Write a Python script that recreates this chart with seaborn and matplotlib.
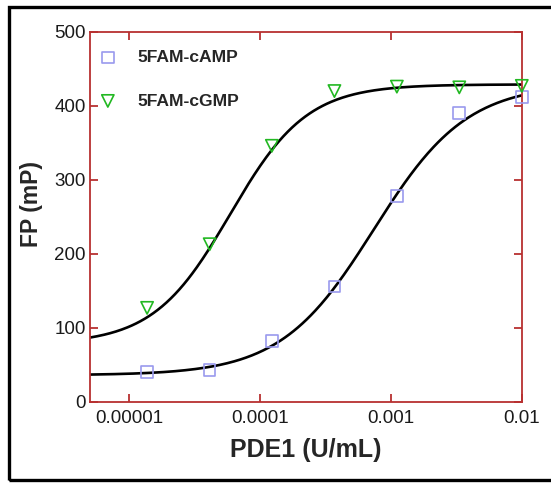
import numpy as np
import pandas as pd
import seaborn as sns
import matplotlib.pyplot as plt
from matplotlib.patches import Rectangle
from matplotlib.ticker import FixedLocator, FixedFormatter, NullLocator

# data
pde1 = [0.0000137, 0.0000412, 0.000123, 0.00037, 0.00111, 0.00333, 0.01]
camp_fp = [40, 43, 82, 156, 278, 390, 412]
cgmp_fp = [127, 213, 346, 420, 426, 425, 427]

# 4PL fit parameters: bottom, top, EC50, hill
camp_fit = (36, 430, 7.4e-4, 1.22)
cgmp_fit = (78, 429, 5.9e-5, 1.48)

x_ticks = [0.00001, 0.0001, 0.001, 0.01]
x_tick_labels = ['0.00001', '0.0001', '0.001', '0.01']
y_ticks = [0, 100, 200, 300, 400, 500]
x_lim = (5e-6, 0.01)

red = '#b83030'
camp_color = '#9a9aee'
cgmp_color = '#22b822'


def four_pl(x, bottom, top, ec50, hill):
    return bottom + (top - bottom) / (1 + (ec50 / x) ** hill)


sns.set_style('ticks')
plt.rcParams['font.family'] = ['Liberation Sans', 'DejaVu Sans']

fig = plt.figure(figsize=(5.51, 4.83), dpi=100)
ax = fig.add_axes([0.163, 0.168, 0.784, 0.766])

xs = np.logspace(np.log10(x_lim[0]), np.log10(x_lim[1]), 300)
curves = pd.DataFrame({'x': np.concatenate([xs, xs]),
                       'y': np.concatenate([four_pl(xs, *camp_fit), four_pl(xs, *cgmp_fit)]),
                       'series': ['cAMP'] * len(xs) + ['cGMP'] * len(xs)})
sns.lineplot(data=curves, x='x', y='y', units='series', estimator=None,
             color='black', linewidth=1.9, ax=ax, legend=False)

sns.scatterplot(x=pde1, y=camp_fp, marker='s', s=70, facecolor='none',
                edgecolor=camp_color, linewidth=1.2, label='5FAM-cAMP', ax=ax,
                zorder=3, clip_on=False)
sns.scatterplot(x=pde1, y=cgmp_fp, marker='v', s=78, facecolor='none',
                edgecolor=cgmp_color, linewidth=1.2, label='5FAM-cGMP', ax=ax,
                zorder=3, clip_on=False)

ax.set_xscale('log')
ax.set_xlim(*x_lim)
ax.set_ylim(0, 500)
ax.xaxis.set_major_locator(FixedLocator(x_ticks))
ax.xaxis.set_major_formatter(FixedFormatter(x_tick_labels))
ax.xaxis.set_minor_locator(NullLocator())
ax.set_yticks(y_ticks)

for s in ax.spines.values():
    s.set_color(red)
    s.set_linewidth(1.3)
ax.tick_params(axis='both', which='major', direction='in', length=6, width=1.3,
               color=red, labelsize=13.5, labelcolor='#1a1a1a',
               top=True, right=True)
ax.tick_params(axis='x', pad=6)
ax.tick_params(axis='y', pad=3)

ax.set_xlabel('PDE1 (U/mL)', fontsize=18, fontweight='bold', labelpad=8)
ax.set_ylabel('FP (mP)', fontsize=16.5, fontweight='bold')
ax.yaxis.set_label_coords(-0.108, 0.534)

leg = ax.legend(loc='upper left', bbox_to_anchor=(0, 0.976), frameon=False,
                handlelength=1.0, handletextpad=1.2, labelspacing=1.6,
                borderaxespad=0.33, borderpad=0.2,
                prop={'weight': 'bold', 'size': 12.6})

fig.patches.append(Rectangle((8.5 / 551, 3 / 483), 1.0, 1 - 9.5 / 483,
                             transform=fig.transFigure, fill=False,
                             edgecolor='black', linewidth=2.4, clip_on=False))

fig.savefig('out.png', dpi=100)
